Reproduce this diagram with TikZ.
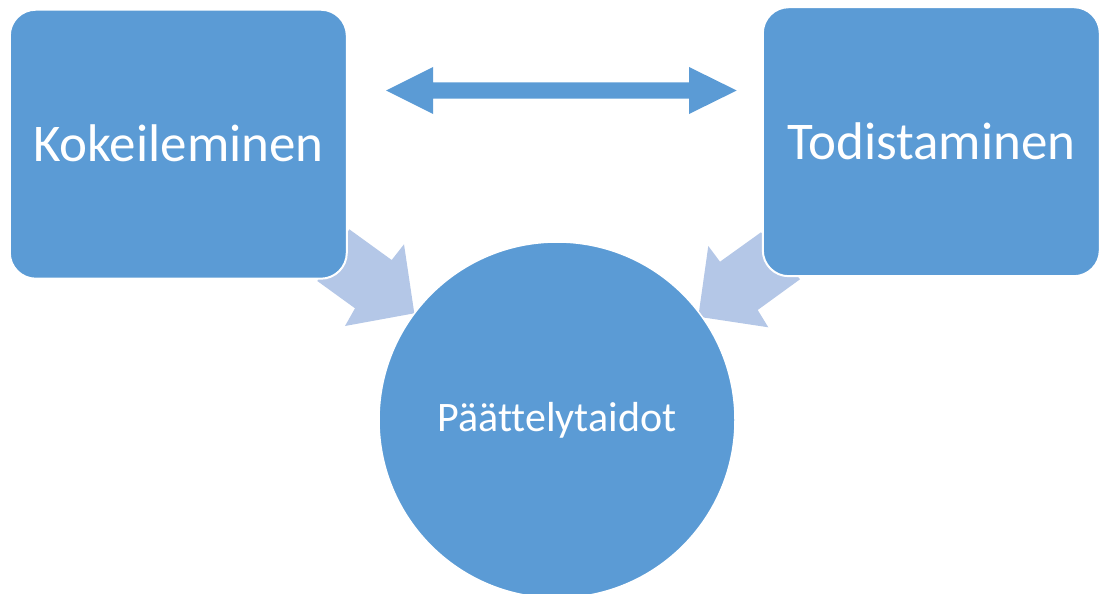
\documentclass[tikz,border=0pt]{standalone}
\usepackage{fontspec}
\setmainfont[Ligatures=NoCommon]{Carlito}
\definecolor{mainblue}{HTML}{5B9BD5}
\definecolor{lightblue}{HTML}{B4C7E7}
\tikzset{
  block/.style={fill=mainblue, draw=white, line width=2pt, rounded corners=26pt, text=white, inner sep=0pt},
  roundnode/.style={circle, fill=mainblue, draw=white, line width=1.5pt, text=white, inner sep=0pt, minimum size=356pt},
  fatarrow/.style={fill=lightblue, draw=none},
  dblarrow/.style={fill=mainblue, draw=none}
}
\begin{document}
\begin{tikzpicture}[x=1pt, y=-1pt]
\clip (0,0) rectangle (1101,594);
% block arrows behind the shapes
\fill[fatarrow] (414.3,313.3) -- (404,244.3) -- (391.7,260) -- (349.3,229.3) -- (317.3,281) -- (355,308.3) -- (345,326) -- cycle;
\fill[fatarrow] (698.3,316.7) -- (708.3,246) -- (720,261.7) -- (761,232.3) -- (800,279.3) -- (757.7,310) -- (768.3,327.3) -- cycle;
% double arrow
\fill[dblarrow] (386,90.5) -- (433,67) -- (433,82.3) -- (689,82.3) -- (689,67) -- (736.7,90.5) -- (689,114) -- (689,98.7) -- (433,98.7) -- (433,114) -- cycle;
% nodes
\node[block, minimum width=337pt, minimum height=269pt, font=\fontsize{53}{62}\selectfont] (kok) at (178.3,144.2) {\raisebox{2pt}{Kokeileminen}};
\node[block, minimum width=337pt, minimum height=269pt, font=\fontsize{53}{62}\selectfont] (tod) at (931.3,141.7) {Todistaminen};
\node[roundnode, font=\fontsize{42}{50}\selectfont] (pat) at (557,420) {Päättelytaidot};
\end{tikzpicture}
\end{document}
